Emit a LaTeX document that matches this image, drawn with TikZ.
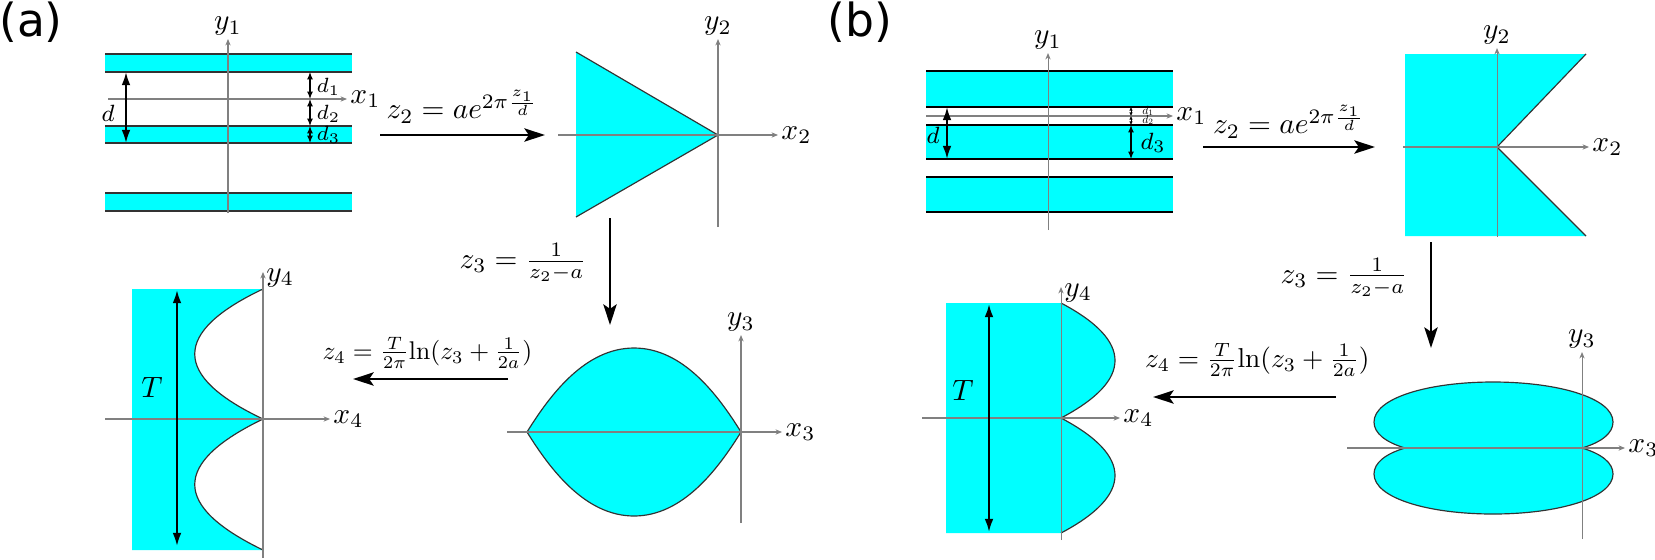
\documentclass[tikz,border=0pt]{standalone}
\usepackage{fontspec}
\newfontfamily\tagfont{DejaVu Sans}
\usetikzlibrary{positioning,calc,arrows.meta}
\definecolor{aqua}{RGB}{0,255,255}

\begin{document}
\begin{tikzpicture}[x=0.34pt,y=-0.34pt]
    \tikzstyle{every node}=[inner sep=1.5pt]
    \tikzstyle{axis}=[draw=gray,line width=0.35pt,-{Stealth[length=2.2pt,width=1.8pt]}]
    \tikzstyle{region}=[fill=aqua,draw=none]
    \tikzstyle{rim}=[draw=black!80,line width=0.4pt]
    \tikzstyle{thickrim}=[draw=black,line width=0.9pt]
    \tikzstyle{map}=[line width=0.9pt,-{Stealth[length=7pt,width=4.5pt,inset=1.5pt]}]
    \tikzstyle{dim}=[line width=0.7pt,{Latex[length=4.5pt,width=3pt]}-{Latex[length=4.5pt,width=3pt]}]
    \tikzstyle{dimsmall}=[line width=0.4pt,{Latex[length=2.5pt,width=2pt]}-{Latex[length=2.5pt,width=2pt]}]
    \tikzstyle{dimtiny}=[line width=0.3pt,dashed,dash pattern=on 0.8pt off 0.5pt,{Latex[length=1.2pt,width=1.2pt]}-{Latex[length=1.2pt,width=1.2pt]}]
    \tikzstyle{tag}=[font=\tagfont\fontsize{15.5}{18}\selectfont]
    \useasboundingbox (0,0) rectangle (1655,559);

    % ---------------- (a) ----------------
    \node[tag] (taga) at (31,22) {(a)};

    % z1 plane
    \foreach \t/\b in {54/72,126/143,193/211} {
        \path[region] (105,\t) rectangle (352,\b);
        \draw[rim] (105,\t) -- (352,\t) (105,\b) -- (352,\b);
    }
    \draw[axis] (108,99) -- (347,99) node[right,inner sep=1pt] (x1a) {$x_1$};
    \draw[axis] (228,213) -- (228,39) node[above,inner sep=1pt] (y1a) {$y_1$};
    \coordinate (dta) at (126,72);
    \coordinate (dba) at (126,143);
    \draw[dim] (dta) -- (dba);
    \node[font=\footnotesize] (dla) at (108,113) {$d$};
    \coordinate (d0a) at (310,72);
    \coordinate (d1a) at (310,99);
    \coordinate (d2a) at (310,126);
    \coordinate (d3a) at (310,143);
    \draw[dimsmall] (d0a) -- (d1a);
    \draw[dimsmall] (d1a) -- (d2a);
    \draw[dimsmall] (d2a) -- (d3a);
    \node[font=\scriptsize,anchor=west,inner sep=0pt] (l1a) at (316,87) {$d_1$};
    \node[font=\scriptsize,anchor=west,inner sep=0pt] (l2a) at (316,114) {$d_2$};
    \node[font=\scriptsize,anchor=west,inner sep=0pt] (l3a) at (316,135) {$d_3$};

    % z1 -> z2
    \coordinate (m1sa) at (380,135);
    \coordinate (m1ea) at (545,135);
    \draw[map] (m1sa) -- node[above=2pt] (m1la) {$z_2=ae^{2\pi\frac{z_1}{d}}$} (m1ea);

    % z2 plane
    \path[region] (576,52) -- (718,135) -- (576,217) -- cycle;
    \draw[rim] (576,52) -- (718,135) -- (576,217);
    \draw[axis] (558,135) -- (778,135) node[right,inner sep=1pt] (x2a) {$x_2$};
    \draw[axis] (718,227) -- (718,39) node[above,inner sep=1pt] (y2a) {$y_2$};

    % z2 -> z3
    \coordinate (m2sa) at (610,218);
    \coordinate (m2ea) at (610,325);
    \draw[map] (m2sa) -- node[left=6pt,yshift=3pt] (m2la) {$z_3=\frac{1}{z_2-a}$} (m2ea);

    % z3 plane
    \path[region,rim] (527,432) .. controls (550,395) and (585,348) .. (634,348)
        .. controls (683,348) and (718,395) .. (741,432)
        .. controls (718,469) and (683,516) .. (634,516)
        .. controls (585,516) and (550,469) .. (527,432) -- cycle;
    \draw[axis] (507,432) -- (782,432) node[right,inner sep=1pt] (x3a) {$x_3$};
    \draw[axis] (741,523) -- (741,335) node[above,inner sep=1pt] (y3a) {$y_3$};

    % z3 -> z4
    \coordinate (m3sa) at (508,379);
    \coordinate (m3ea) at (353,379);
    \draw[map] (m3sa) -- node[above=2pt,scale=0.87,pos=0.52] (m3la) {$z_4=\frac{T}{2\pi}\mathrm{ln}(z_3+\frac{1}{2a})$} (m3ea);

    % z4 plane
    \path[region] (132,289) -- (263,289) .. controls (172,332) and (172,376) .. (263,419)
        .. controls (172,463) and (172,506) .. (263,550) -- (132,550) -- cycle;
    \draw[rim] (263,289) .. controls (172,332) and (172,376) .. (263,419)
        .. controls (172,463) and (172,506) .. (263,550);
    \draw[axis] (105,419) -- (330,419) node[right,inner sep=1pt] (x4a) {$x_4$};
    \draw[axis] (263,558) -- (263,272) node[right,yshift=-2pt,inner sep=1pt] (y4a) {$y_4$};
    \coordinate (tta) at (177,290);
    \coordinate (tba) at (177,546);
    \draw[dim] (tta) -- (tba);
    \node (tla) at (152,387) {$T$};

    % ---------------- (b) ----------------
    \node[tag] (tagb) at (860,22) {(b)};

    % z1 plane
    \foreach \t/\b in {71/107,125/159,177/212} {
        \path[region] (926,\t) rectangle (1173,\b);
        \draw[thickrim] (926,\t) -- (1173,\t) (926,\b) -- (1173,\b);
    }
    \draw[axis] (926,116) -- (1173,116) node[right,inner sep=1pt] (x1b) {$x_1$};
    \draw[axis] (1048,230) -- (1048,53) node[above,inner sep=1pt] (y1b) {$y_1$};
    \coordinate (dtb) at (947,107);
    \coordinate (dbb) at (947,159);
    \draw[dim] (dtb) -- (dbb);
    \node[font=\footnotesize] (dlb) at (933,135) {$d$};
    \coordinate (d0b) at (1131,107);
    \coordinate (d1b) at (1131,116);
    \coordinate (d2b) at (1131,125);
    \coordinate (d3b) at (1131,159);
    \draw[dimtiny] (d0b) -- (d1b);
    \draw[dimtiny] (d1b) -- (d2b);
    \draw[dimsmall] (d2b) -- (d3b);
    \node[scale=0.4,inner sep=0pt] (l1b) at (1148,111) {$d_1$};
    \node[scale=0.4,inner sep=0pt] (l2b) at (1148,120) {$d_2$};
    \node[font=\footnotesize,anchor=west,inner sep=0pt] (l3b) at (1140,143) {$d_3$};

    % z1 -> z2
    \coordinate (m1sb) at (1203,147);
    \coordinate (m1eb) at (1375,147);
    \draw[map] (m1sb) -- node[above=1pt] (m1lb) {$z_2=ae^{2\pi\frac{z_1}{d}}$} (m1eb);

    % z2 plane
    \path[region] (1405,54) -- (1586,54) -- (1497,147) -- (1586,236) -- (1405,236) -- cycle;
    \draw[rim] (1586,54) -- (1497,147) -- (1586,236);
    \draw[axis] (1403,147) -- (1589,147) node[right,inner sep=1pt] (x2b) {$x_2$};
    \draw[axis] (1497,237) -- (1497,48) node[above,inner sep=1pt] (y2b) {$y_2$};

    % z2 -> z3
    \coordinate (m2sb) at (1431,242);
    \coordinate (m2eb) at (1431,348);
    \draw[map] (m2sb) -- node[left=6pt,yshift=6pt] (m2lb) {$z_3=\frac{1}{z_2-a}$} (m2eb);

    % z3 plane
    \path[region,rim] (1405,448) .. controls (1385,442) and (1374,433) .. (1374,422)
        .. controls (1374,398) and (1428,382) .. (1493,382)
        .. controls (1558,382) and (1613,398) .. (1613,422)
        .. controls (1613,433) and (1602,442) .. (1582,448)
        .. controls (1602,454) and (1613,463) .. (1613,474)
        .. controls (1613,498) and (1558,514) .. (1493,514)
        .. controls (1428,514) and (1374,498) .. (1374,474)
        .. controls (1374,463) and (1385,454) .. (1405,448) -- cycle;
    \draw[axis] (1347,448) -- (1625,448) node[right,inner sep=1pt] (x3b) {$x_3$};
    \draw[axis] (1582,539) -- (1582,352) node[above,inner sep=1pt] (y3b) {$y_3$};

    % z3 -> z4
    \coordinate (m3sb) at (1336,397);
    \coordinate (m3eb) at (1153,397);
    \draw[map] (m3sb) -- node[above=5pt,scale=0.93,pos=0.43] (m3lb) {$z_4=\frac{T}{2\pi}\mathrm{ln}(z_3+\frac{1}{2a})$} (m3eb);

    % z4 plane
    \path[region] (946,303) -- (1061,303) .. controls (1133,341) and (1133,380) .. (1061,418)
        .. controls (1133,456) and (1133,495) .. (1061,533) -- (946,533) -- cycle;
    \draw[rim] (1061,303) .. controls (1133,341) and (1133,380) .. (1061,418)
        .. controls (1133,456) and (1133,495) .. (1061,533);
    \draw[axis] (922,418) -- (1120,418) node[right,inner sep=1pt] (x4b) {$x_4$};
    \draw[axis] (1061,540) -- (1061,287) node[right,yshift=-2pt,inner sep=1pt] (y4b) {$y_4$};
    \coordinate (ttb) at (989,304);
    \coordinate (tbb) at (989,532);
    \draw[dim] (ttb) -- (tbb);
    \node (tlb) at (963,390) {$T$};
\end{tikzpicture}
\end{document}
